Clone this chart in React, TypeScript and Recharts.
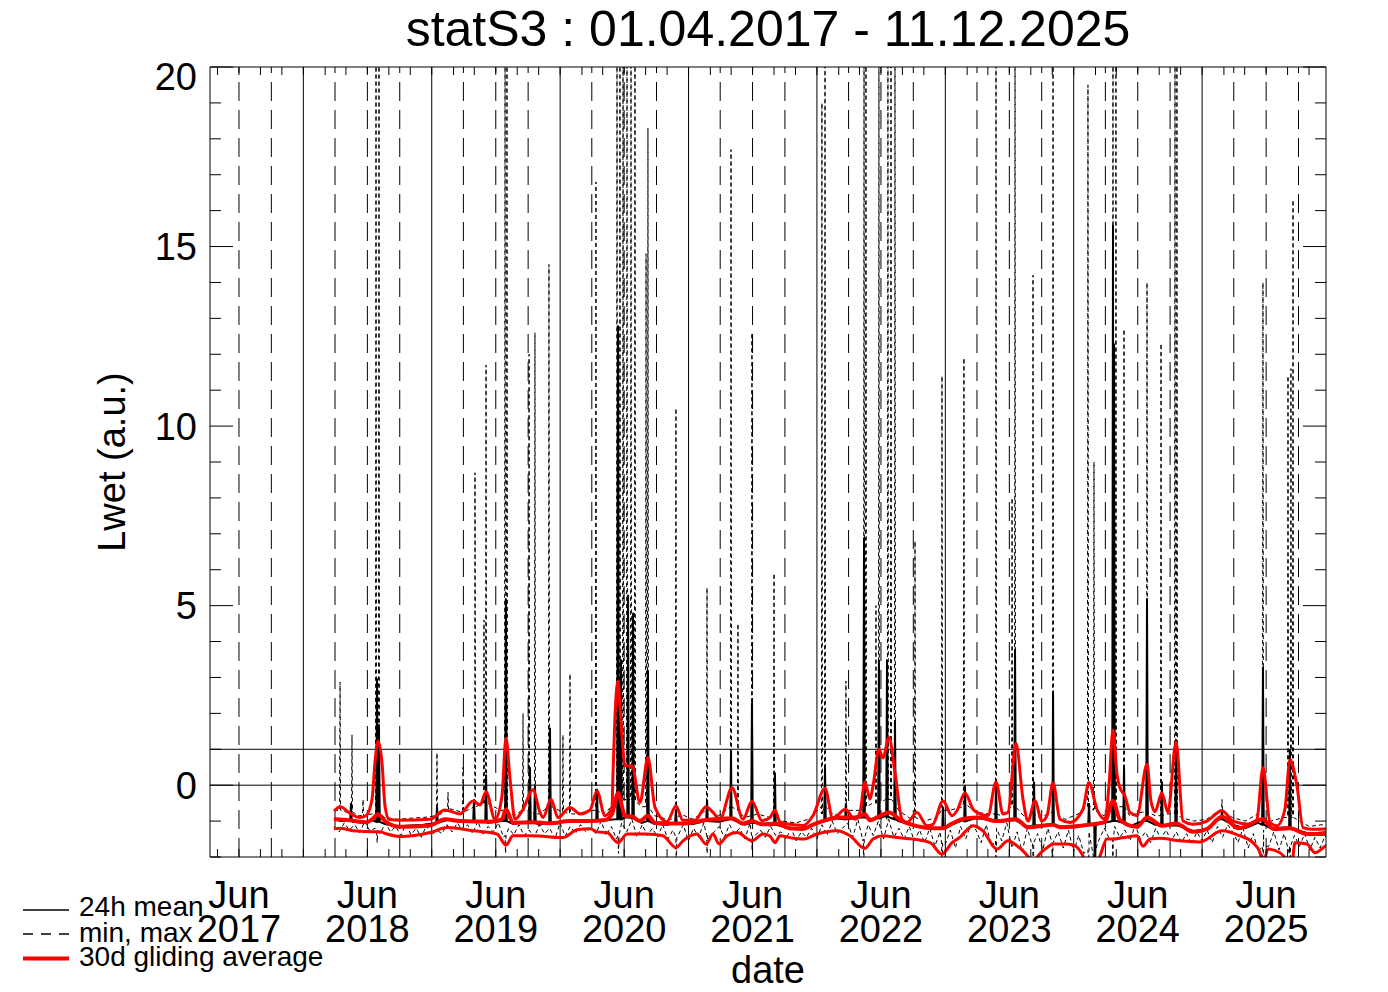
import React from "react";
import { LineChart, Line, XAxis, YAxis, ReferenceLine } from "recharts";

// chart box (sits inside the 8px body margin) and the plot frame in it
const W = 1372;
const H = 976;
const PL = 202;
const PT = 59;
const PW = 1116;
const PH = 790;
const PR = PL + PW;
const PB = PT + PH;

const X_DOMAIN: [number, number] = [2017.188, 2025.88];
const Y_DOMAIN: [number, number] = [-2, 20];
const FONT = "'Liberation Sans', Arial, Helvetica, sans-serif";

// time is in decimal years
const YEARS = [2017, 2018, 2019, 2020, 2021, 2022, 2023, 2024, 2025];
const TICK_DOY = [31, 90, 151, 212, 273, 334]; // Feb, Apr, Jun, Aug, Oct, Dec 1st
const JUN_DOY = 151;
const SEASON_DOY = [59, 151, 243]; // Mar, Jun, Sep 1st (dashed)
const WINTER_DOY = 334; // Dec 1st (solid)

// 24h mean: slow baseline, then single-day spikes [t, base, peak]
const meanBase: [number, number][] = [
  [2018.154, -0.92], [2018.2, -1.0], [2018.3, -1.02], [2018.4, -1.05], [2018.45, -0.98],
  [2018.55, -1.08], [2018.65, -1.15], [2018.75, -1.12], [2018.85, -1.1], [2018.95, -1.05],
  [2019.05, -0.95], [2019.15, -1.02], [2019.25, -1.0], [2019.35, -1.05], [2019.45, -1.0],
  [2019.55, -1.08], [2019.65, -1.02], [2019.75, -1.1], [2019.85, -1.05], [2019.95, -1.02],
  [2020.05, -1.0], [2020.15, -1.02], [2020.25, -0.98], [2020.35, -0.95], [2020.42, -0.9],
  [2020.5, -0.95], [2020.55, -1.05], [2020.65, -1.08], [2020.75, -1.1], [2020.85, -1.05],
  [2020.95, -1.08], [2021.05, -1.0], [2021.15, -1.02], [2021.25, -0.95], [2021.35, -1.1],
  [2021.45, -1.05], [2021.55, -1.12], [2021.65, -1.15], [2021.75, -1.22], [2021.85, -1.15],
  [2021.95, -1.0], [2022.05, -0.92], [2022.15, -0.95], [2022.25, -0.9], [2022.35, -0.95],
  [2022.45, -0.85], [2022.55, -1.0], [2022.65, -1.1], [2022.75, -1.18], [2022.85, -1.2],
  [2022.95, -1.12], [2023.05, -0.98], [2023.15, -0.92], [2023.25, -0.95], [2023.35, -1.02],
  [2023.45, -0.98], [2023.55, -1.15], [2023.65, -1.12], [2023.75, -1.1], [2023.85, -1.18],
  [2023.95, -1.12], [2024.05, -1.08], [2024.15, -1.05], [2024.25, -1.0], [2024.35, -1.15],
  [2024.45, -1.0], [2024.55, -1.1], [2024.65, -1.12], [2024.75, -1.15], [2024.85, -1.28],
  [2024.95, -1.22], [2025.05, -0.95], [2025.15, -1.1], [2025.25, -1.2], [2025.35, -1.05],
  [2025.45, -1.2], [2025.55, -1.18], [2025.65, -1.25], [2025.75, -1.35], [2025.85, -1.32],
  [2025.95, -1.3],
];
const meanSpikes: [number, number, number][] = [
  [2018.286, -1.0, -0.5], [2018.489, -1.02, 2.98], [2018.504, -1.02, 1.7], [2018.956, -1.05, -0.6],
  [2019.244, -1.0, -0.4], [2019.338, -1.02, 0.3], [2019.493, -1.0, 5.2], [2019.68, -1.02, 0.5],
  [2019.719, -1.05, 0.0], [2019.836, -1.05, 1.6], [2020.202, -1.0, -0.1], [2020.366, -0.95, 12.8],
  [2020.389, -0.95, 3.5], [2020.444, -0.9, 5.3], [2020.483, -0.92, 4.8], [2020.599, -1.0, 3.2],
  [2020.817, -1.05, -0.7], [2021.059, -1.0, -0.4], [2021.246, -0.95, 0.95], [2021.409, -1.05, 2.3],
  [2021.588, -1.1, 0.35], [2021.978, -1.0, 0.5], [2022.141, -0.95, -0.5], [2022.282, -0.9, 6.9],
  [2022.398, -0.92, 3.5], [2022.461, -0.88, 3.5], [2022.523, -0.95, 1.8], [2022.897, -1.2, -0.6],
  [2023.068, -1.0, 0.0], [2023.31, -1.0, 0.0], [2023.458, -0.98, 3.8], [2023.606, -1.12, 0.1],
  [2023.754, -1.1, 2.6], [2024.034, -1.1, -0.5], [2024.081, -1.1, -2.5], [2024.221, -1.0, 15.6],
  [2024.229, -1.0, 12.3], [2024.307, -1.05, 0.5], [2024.486, -1.0, 5.2], [2024.602, -1.1, 0.1],
  [2024.712, -1.12, 1.2], [2025.07, -0.95, -0.7], [2025.389, -1.1, 3.3], [2025.599, -1.18, 1.0],
];

// daily max
const maxBase: [number, number][] = [
  [2018.154, -0.7], [2018.25, -0.75], [2018.35, -0.85], [2018.45, -0.8], [2018.55, -0.9],
  [2018.65, -0.95], [2018.75, -0.92], [2018.85, -0.9], [2018.95, -0.85], [2019.05, -0.65],
  [2019.15, -0.75], [2019.25, -0.6], [2019.35, -0.5], [2019.45, -0.7], [2019.55, -0.85],
  [2019.65, -0.7], [2019.75, -0.8], [2019.85, -0.6], [2019.95, -0.75], [2020.05, -0.8],
  [2020.15, -0.7], [2020.25, -0.8], [2020.35, -0.5], [2020.45, -0.4], [2020.55, -0.6],
  [2020.65, -0.85], [2020.75, -0.95], [2020.85, -0.8], [2020.95, -0.95], [2021.05, -0.7],
  [2021.15, -0.85], [2021.25, -0.6], [2021.35, -0.9], [2021.45, -0.8], [2021.55, -0.9],
  [2021.65, -1.0], [2021.75, -1.05], [2021.85, -0.95], [2021.95, -0.6], [2022.05, -0.85],
  [2022.15, -0.7], [2022.25, -0.7], [2022.35, -0.5], [2022.45, -0.4], [2022.55, -0.7],
  [2022.65, -0.95], [2022.75, -1.0], [2022.85, -0.9], [2022.95, -0.7], [2023.05, -0.6],
  [2023.15, -0.75], [2023.25, -0.8], [2023.35, -0.85], [2023.45, -0.6], [2023.55, -0.95],
  [2023.65, -0.9], [2023.75, -0.75], [2023.85, -0.95], [2023.95, -0.8], [2024.05, -0.6],
  [2024.15, -0.85], [2024.25, -0.6], [2024.35, -0.85], [2024.45, -0.75], [2024.55, -0.85],
  [2024.65, -0.8], [2024.75, -0.9], [2024.85, -1.0], [2024.95, -0.95], [2025.05, -0.7],
  [2025.15, -0.9], [2025.25, -1.0], [2025.35, -0.8], [2025.45, -1.0], [2025.55, -0.9],
  [2025.65, -0.95], [2025.75, -1.15], [2025.85, -1.1], [2025.95, -1.1],
];
const maxSpikes: [number, number, number][] = [
  [2018.201, -0.7, 2.87], [2018.294, -0.75, 1.4], [2018.38, -0.85, -0.4], [2018.481, -0.8, 21],
  [2018.504, -0.8, 21], [2018.956, -0.85, 0.9], [2019.042, -0.7, -0.2], [2019.159, -0.75, 0.5],
  [2019.252, -0.6, 8.7], [2019.322, -0.5, 4.6], [2019.338, -0.5, 11.7], [2019.486, -0.7, 21],
  [2019.501, -0.7, 21], [2019.626, -0.7, 2.0], [2019.673, -0.7, 12.0], [2019.719, -0.8, 12.6],
  [2019.828, -0.6, 14.5], [2019.937, -0.75, 1.4], [2019.992, -0.8, 3.1], [2020.194, -0.7, 16.8],
  [2020.358, -0.5, 21], [2020.381, -0.5, 21], [2020.405, -0.4, 21], [2020.436, -0.4, 21],
  [2020.467, -0.4, 21], [2020.498, -0.45, 21], [2020.584, -0.6, 14.8], [2020.599, -0.6, 18.3],
  [2020.817, -0.95, 10.5], [2021.059, -0.7, 5.5], [2021.246, -0.6, 17.7], [2021.3, -0.7, 4.5],
  [2021.409, -0.85, 12.6], [2021.581, -0.9, 5.9], [2021.954, -0.8, 19.0], [2021.978, -0.6, 21],
  [2022.141, -0.7, 2.9], [2022.282, -0.6, 21], [2022.297, -0.6, 21], [2022.375, -0.5, 5.0],
  [2022.398, -0.5, 21], [2022.468, -0.4, 21], [2022.492, -0.4, 21], [2022.523, -0.5, 21],
  [2022.679, -0.9, 6.8], [2022.889, -0.7, 11.4], [2023.06, -0.5, 11.9], [2023.31, -0.8, 21],
  [2023.435, -0.6, 8.0], [2023.458, -0.6, 21], [2023.598, -0.8, 14.2], [2023.754, -0.75, 21],
  [2024.026, -0.6, 19.5], [2024.073, -0.7, 9.0], [2024.221, -0.6, 21], [2024.244, -0.6, 21],
  [2024.307, -0.6, 12.7], [2024.486, -0.75, 14.0], [2024.595, -0.85, 12.3], [2024.704, -0.8, 21],
  [2024.719, -0.8, 21], [2025.07, -0.7, -0.4], [2025.389, -0.9, 14.0], [2025.584, -0.9, 11.4],
  [2025.607, -0.9, 11.6], [2025.623, -0.9, 16.3],
];

// daily min, sampled every MIN_DT years from MIN_T0 (one row per year)
const MIN_T0 = 2018.154;
const MIN_DT = 0.04;
const minVals: number[] = [
  -1.15, -1.3, -1.05, -1.25, -1.1, -1.32, -1.0, -1.28, -1.2, -1.35, -1.05, -1.3, -1.15, -1.4, -1.1, -1.38, -1.2, -1.45, -1.12, -1.4, -1.25, -1.35, -1.1, -1.3, -1.05,
  -1.25, -1.1, -1.35, -1.0, -1.4, -1.15, -1.3, -1.05, -1.45, -1.2, -1.38, -1.1, -1.4, -1.25, -1.45, -1.1, -1.35, -1.2, -1.5, -1.05, -1.42, -1.15, -1.35, -1.1, -1.3,
  -1.2, -1.35, -1.0, -1.4, -1.15, -1.5, -1.05, -1.3, -0.95, -1.45, -1.1, -1.4, -1.2, -1.45, -1.1, -1.5, -1.25, -1.4, -1.1, -1.55, -1.2, -1.45, -1.05, -1.5, -1.3,
  -1.15, -1.45, -1.1, -1.35, -1.2, -1.5, -1.05, -1.4, -1.25, -1.45, -1.15, -1.4, -1.3, -1.5, -1.2, -1.55, -1.3, -1.45, -1.2, -1.5, -1.1, -1.4, -1.0, -1.35, -1.2,
  -1.05, -1.45, -0.95, -1.55, -1.1, -1.4, -1.0, -1.5, -0.95, -1.45, -1.2, -1.5, -1.15, -1.55, -1.25, -1.6, -1.2, -1.7, -1.3, -1.65, -1.25, -1.75, -1.15, -1.5, -1.1,
  -1.25, -1.6, -1.1, -1.7, -1.2, -1.55, -1.05, -1.75, -1.3, -1.85, -1.2, -1.7, -1.35, -1.8, -1.2, -1.65, -1.3, -1.75, -1.25, -1.85, -1.4, -1.9, -1.3, -2.1, -1.5,
  -1.2, -1.5, -1.15, -1.45, -1.25, -1.55, -1.1, -1.5, -1.3, -1.6, -1.2, -1.5, -1.25, -1.55, -1.3, -1.6, -1.35, -1.65, -1.3, -1.55, -1.25, -1.6, -1.15, -1.45, -1.1,
  -1.3, -1.6, -1.2, -1.75, -1.35, -1.85, -1.25, -1.7, -1.3, -1.8, -1.35, -1.9, -1.4, -1.7, -1.35, -1.8, -1.45, -1.75, -1.4, -1.7, -1.45, -1.8, -1.4, -1.75, -1.45,
];
const minDips: [number, number, number][] = [
  [2018.49, -1.3, -1.6], [2019.49, -1.4, -1.9], [2020.37, -1.4, -1.9], [2020.82, -1.45, -2.3],
  [2021.06, -1.4, -1.9], [2021.41, -1.4, -1.8], [2022.28, -1.5, -2.2], [2022.89, -1.6, -2.5],
  [2023.31, -1.55, -2.3], [2023.6, -1.6, -2.5], [2023.75, -1.6, -2.4], [2024.03, -1.8, -2.5],
  [2024.08, -1.8, -2.6], [2024.22, -1.5, -2.2], [2025.39, -1.7, -2.5], [2025.6, -1.7, -2.4],
];

// 30d gliding averages of max, mean and min
const avgMax: [number, number][] = [
  [2018.154, -0.72], [2018.201, -0.6], [2018.278, -0.78], [2018.356, -0.9], [2018.403, -0.85],
  [2018.45, -0.39], [2018.473, 0.64], [2018.497, 1.23], [2018.528, 0.6], [2018.551, -0.58],
  [2018.582, -0.95], [2018.668, -0.98], [2018.902, -0.95], [2019.018, -0.69], [2019.135, -0.8],
  [2019.236, -0.44], [2019.291, -0.55], [2019.338, -0.19], [2019.408, -0.95], [2019.462, -0.3],
  [2019.493, 1.31], [2019.525, 0.17], [2019.564, -0.95], [2019.626, -0.67], [2019.704, -0.13],
  [2019.758, -0.76], [2019.782, -0.9], [2019.844, -0.39], [2019.898, -0.9], [2019.992, -0.62],
  [2020.07, -0.8], [2020.148, -0.69], [2020.202, -0.16], [2020.264, -0.85], [2020.319, -0.62],
  [2020.327, 0.35], [2020.342, 1.9], [2020.366, 2.9], [2020.381, 2.2], [2020.405, 0.99],
  [2020.42, 0.54], [2020.475, 0.54], [2020.537, -0.48], [2020.599, 0.77], [2020.654, -0.62],
  [2020.747, -1.02], [2020.817, -0.58], [2020.872, -0.98], [2020.965, -0.98], [2021.051, -0.6],
  [2021.106, -0.76], [2021.16, -0.95], [2021.254, -0.07], [2021.339, -0.95], [2021.409, -0.45],
  [2021.487, -0.99], [2021.55, -0.9], [2021.588, -0.7], [2021.627, -1.02], [2021.705, -1.09],
  [2021.807, -1.12], [2021.884, -0.85], [2021.978, -0.09], [2022.04, -0.95], [2022.079, -0.83],
  [2022.134, -0.67], [2022.212, -0.95], [2022.25, -0.76], [2022.289, 0.09], [2022.328, -0.39],
  [2022.352, -0.02], [2022.398, 1.0], [2022.43, 0.76], [2022.476, 1.33], [2022.523, 0.35],
  [2022.578, -0.95], [2022.616, -1.04], [2022.694, -0.76], [2022.772, -1.13], [2022.819, -1.09],
  [2022.897, -0.44], [2022.967, -0.85], [2023.006, -0.71], [2023.068, -0.22], [2023.131, -0.67],
  [2023.185, -0.8], [2023.247, -0.85], [2023.31, 0.09], [2023.364, -0.8], [2023.403, -0.76],
  [2023.465, 1.17], [2023.52, -0.39], [2023.559, -1.0], [2023.613, -0.44], [2023.668, -1.0],
  [2023.707, -0.85], [2023.754, 0.07], [2023.808, -0.95], [2023.886, -1.04], [2023.987, -0.67],
  [2024.034, 0.07], [2024.096, -0.67], [2024.159, -0.95], [2024.19, 0.0], [2024.221, 1.54],
  [2024.252, 0.3], [2024.275, -0.07], [2024.314, -0.3], [2024.353, -0.76], [2024.408, -0.85],
  [2024.486, 0.58], [2024.517, -0.45], [2024.548, -0.74], [2024.602, -0.22], [2024.649, -0.76],
  [2024.712, 1.21], [2024.766, -1.0], [2024.844, -1.09], [2024.953, -1.0], [2025.07, -0.71],
  [2025.155, -1.0], [2025.288, -1.09], [2025.342, -0.95], [2025.389, 0.49], [2025.444, -1.04],
  [2025.498, -1.13], [2025.56, -0.67], [2025.599, 0.7], [2025.654, -0.02], [2025.701, -1.18],
  [2025.778, -1.23], [2025.911, -1.22],
];
const avgMean: [number, number][] = [
  [2018.154, -0.95], [2018.278, -0.98], [2018.411, -1.03], [2018.45, -0.95], [2018.497, -0.81],
  [2018.551, -1.0], [2018.668, -1.16], [2018.902, -1.12], [2019.018, -0.95], [2019.135, -1.0],
  [2019.369, -1.02], [2019.462, -0.95], [2019.493, -0.67], [2019.548, -1.05], [2019.704, -1.03],
  [2019.836, -1.06], [2019.992, -1.0], [2020.148, -1.0], [2020.264, -0.97], [2020.319, -0.8],
  [2020.366, -0.22], [2020.42, -0.85], [2020.475, -0.87], [2020.537, -1.0], [2020.599, -0.85],
  [2020.654, -1.05], [2020.888, -1.07], [2021.051, -0.97], [2021.254, -0.92], [2021.339, -1.07],
  [2021.409, -1.0], [2021.487, -1.09], [2021.596, -1.07], [2021.705, -1.2], [2021.807, -1.22],
  [2021.884, -1.1], [2021.978, -0.98], [2022.079, -0.9], [2022.212, -0.9], [2022.289, -0.81],
  [2022.328, -0.98], [2022.398, -0.87], [2022.476, -0.76], [2022.578, -1.0], [2022.694, -1.14],
  [2022.819, -1.2], [2022.897, -1.2], [2022.967, -1.07], [2023.068, -0.93], [2023.185, -0.9],
  [2023.31, -1.0], [2023.465, -0.95], [2023.559, -1.17], [2023.754, -1.1], [2023.808, -1.17],
  [2024.034, -1.1], [2024.159, -1.02], [2024.221, -0.44], [2024.275, -0.97], [2024.408, -1.16],
  [2024.486, -0.9], [2024.602, -1.13], [2024.712, -1.07], [2024.844, -1.3], [2024.953, -1.22],
  [2025.07, -0.88], [2025.2, -1.2], [2025.389, -0.95], [2025.47, -1.22], [2025.599, -1.2],
  [2025.732, -1.36], [2025.911, -1.36],
];
const avgMin: [number, number][] = [
  [2018.154, -1.21], [2018.201, -1.2], [2018.302, -1.27], [2018.411, -1.29], [2018.512, -1.3],
  [2018.567, -1.36], [2018.668, -1.43], [2018.902, -1.32], [2019.034, -1.18], [2019.236, -1.27],
  [2019.423, -1.36], [2019.493, -1.67], [2019.548, -1.41], [2019.704, -1.41], [2019.937, -1.46],
  [2020.046, -1.24], [2020.148, -1.21], [2020.202, -1.3], [2020.28, -1.32], [2020.366, -1.6],
  [2020.436, -1.36], [2020.592, -1.36], [2020.716, -1.41], [2020.817, -1.74], [2020.872, -1.55],
  [2020.981, -1.36], [2021.051, -1.64], [2021.106, -1.36], [2021.152, -1.64], [2021.215, -1.41],
  [2021.293, -1.32], [2021.409, -1.55], [2021.495, -1.36], [2021.55, -1.42], [2021.588, -1.6],
  [2021.627, -1.41], [2021.705, -1.46], [2021.807, -1.5], [2021.916, -1.36], [2022.071, -1.27],
  [2022.173, -1.41], [2022.289, -1.76], [2022.352, -1.5], [2022.43, -1.41], [2022.539, -1.46],
  [2022.663, -1.5], [2022.796, -1.6], [2022.889, -1.92], [2022.967, -1.6], [2023.029, -1.45],
  [2023.068, -1.3], [2023.131, -1.13], [2023.208, -1.27], [2023.317, -1.78], [2023.403, -1.55],
  [2023.473, -1.69], [2023.52, -1.83], [2023.574, -2.06], [2023.598, -2.2], [2023.637, -1.97],
  [2023.707, -1.74], [2023.754, -1.64], [2023.863, -1.64], [2023.925, -1.69], [2023.987, -1.97],
  [2024.026, -2.3], [2024.081, -2.3], [2024.12, -1.97], [2024.174, -1.5], [2024.221, -1.5],
  [2024.299, -1.46], [2024.408, -1.41], [2024.454, -1.7], [2024.509, -1.5], [2024.587, -1.48],
  [2024.743, -1.55], [2024.898, -1.58], [2025.07, -1.27], [2025.21, -1.41], [2025.311, -1.6],
  [2025.366, -1.88], [2025.389, -2.2], [2025.428, -1.78], [2025.521, -1.88], [2025.576, -2.06],
  [2025.615, -2.15], [2025.638, -1.6], [2025.732, -1.64], [2025.794, -1.88], [2025.88, -1.69],
  [2025.911, -1.65],
];

type Pt = { t: number; v: number };

const toPts = (rows: [number, number][]): Pt[] => rows.map(([t, v]) => ({ t, v }));

// merge a baseline with one-day spikes, each spike given as [t, base, peak]
const withSpikes = (base: Pt[], spikes: [number, number, number][], hw: number): Pt[] => {
  const pts = [...base];
  spikes.forEach(([t, b, p]) => {
    pts.push({ t: t - hw, v: b }, { t, v: p }, { t: t + hw, v: b });
  });
  return pts.sort((a, b) => a.t - b.t);
};

const minGrid: Pt[] = minVals.map((v, i) => ({ t: MIN_T0 + i * MIN_DT, v }));

const meanData = withSpikes(toPts(meanBase), meanSpikes, 0.006);
const maxData = withSpikes(toPts(maxBase), maxSpikes, 0.004);
const minData = withSpikes(minGrid, minDips, 0.004);

const dec = (y: number, doy: number) => y + doy / 365;
const inX = (t: number) => t >= X_DOMAIN[0] && t <= X_DOMAIN[1];

const xTicks = YEARS.flatMap((y) => TICK_DOY.map((d) => dec(y, d))).filter(inX);
const seasonLines = YEARS.flatMap((y) => SEASON_DOY.map((d) => dec(y, d))).filter(inX);
const winterLines = YEARS.map((y) => dec(y, WINTER_DOY)).filter(inX);
const yTicks = Array.from({ length: 23 }, (_, i) => i - 2);

const isJun = (t: number) => Math.abs(t - Math.floor(t) - JUN_DOY / 365) < 0.001;

const BottomTick = (p: any) => {
  const x = p.x;
  const t = p.payload.value;
  return (
    <g>
      <line x1={x} x2={x} y1={PB} y2={PB - 8} stroke="#000" />
      {isJun(t) && (
        <g fontFamily={FONT} fontSize={38} fill="#000" textAnchor="middle">
          <text x={x} y={900}>Jun</text>
          <text x={x} y={933.5}>{Math.floor(t)}</text>
        </g>
      )}
    </g>
  );
};

const TopTick = (p: any) => (
  <line x1={p.x} x2={p.x} y1={PT} y2={PT + 8} stroke="#000" />
);

const LeftTick = (p: any) => {
  const v = p.payload.value;
  const y = p.y;
  const major = v % 5 === 0;
  return (
    <g>
      <line x1={PL} x2={PL + (major ? 23 : 11)} y1={y} y2={y} stroke="#000" />
      {major && v >= 0 && (
        <text x={PL - 13} y={v === 20 ? y + 23 : y + 13.5} textAnchor="end" fontSize={38} fontFamily={FONT} fill="#000">
          {v}
        </text>
      )}
    </g>
  );
};

const RightTick = (p: any) => {
  const v = p.payload.value;
  const major = v % 5 === 0;
  return <line x1={PR} x2={PR - (major ? 23 : 11)} y1={p.y} y2={p.y} stroke="#000" />;
};

// axes need a size of at least 1px or they are not drawn
const AX = 1;

export default function App() {
  return (
    <div style={{ position: "relative", width: W, height: H }}>
      <LineChart
        width={W}
        height={H}
        margin={{ top: PT - AX, right: W - PR - AX, bottom: H - PB - AX, left: PL - AX }}
      >
        <XAxis
          dataKey="t"
          type="number"
          domain={X_DOMAIN}
          allowDataOverflow
          ticks={xTicks}
          interval={0}
          height={AX}
          tickLine={false}
          axisLine={{ stroke: "#000" }}
          tick={BottomTick}
        />
        <XAxis
          xAxisId="top"
          orientation="top"
          dataKey="t"
          type="number"
          domain={X_DOMAIN}
          allowDataOverflow
          ticks={xTicks}
          interval={0}
          height={AX}
          tickLine={false}
          axisLine={{ stroke: "#000" }}
          tick={TopTick}
        />
        <YAxis
          type="number"
          domain={Y_DOMAIN}
          allowDataOverflow
          ticks={yTicks}
          interval={0}
          width={AX}
          tickLine={false}
          axisLine={{ stroke: "#000" }}
          tick={LeftTick}
        />
        <YAxis
          yAxisId="right"
          orientation="right"
          type="number"
          domain={Y_DOMAIN}
          allowDataOverflow
          ticks={yTicks}
          interval={0}
          width={AX}
          tickLine={false}
          axisLine={{ stroke: "#000" }}
          tick={RightTick}
        />

        {seasonLines.map((t) => (
          <ReferenceLine key={`s${t}`} x={t} stroke="#000" strokeWidth={1} strokeDasharray="19 9" />
        ))}
        {winterLines.map((t) => (
          <ReferenceLine key={`w${t}`} x={t} stroke="#000" strokeWidth={1} />
        ))}
        <ReferenceLine y={0} stroke="#000" strokeWidth={1} />
        <ReferenceLine y={1} stroke="#000" strokeWidth={1} />

        <Line data={maxData} dataKey="v" type="linear" stroke="#000" strokeWidth={1} strokeDasharray="4 3" dot={false} isAnimationActive={false} />
        <Line data={minData} dataKey="v" type="linear" stroke="#000" strokeWidth={1} strokeDasharray="4 3" dot={false} isAnimationActive={false} />
        <Line data={meanData} dataKey="v" type="linear" stroke="#000" strokeWidth={2} dot={false} isAnimationActive={false} />
        <Line data={toPts(avgMin)} dataKey="v" type="monotone" stroke="#ff0000" strokeWidth={3} dot={false} isAnimationActive={false} />
        <Line data={toPts(avgMax)} dataKey="v" type="monotone" stroke="#ff0000" strokeWidth={3} dot={false} isAnimationActive={false} />
        <Line data={toPts(avgMean)} dataKey="v" type="monotone" stroke="#ff0000" strokeWidth={4} dot={false} isAnimationActive={false} />
      </LineChart>

      <svg
        width={W}
        height={H}
        style={{ position: "absolute", left: 0, top: 0, overflow: "visible", pointerEvents: "none" }}
        fontFamily={FONT}
        fill="#000"
      >
        <text x={760} y={38} fontSize={50} textAnchor="middle">
          statS3 : 01.04.2017 - 11.12.2025
        </text>
        <text x={104} y={454} fontSize={38} textAnchor="middle" dominantBaseline="central" transform="rotate(-90 104 454)">
          Lwet (a.u.)
        </text>
        <text x={760} y={975} fontSize={38} textAnchor="middle">
          date
        </text>

        <line x1={15} x2={61} y1={902} y2={902} stroke="#000" strokeWidth={1.5} />
        <text x={71} y={908} fontSize={28}>24h mean</text>
        <line x1={15} x2={61} y1={926} y2={926} stroke="#000" strokeWidth={1.5} strokeDasharray="10 8" />
        <text x={71} y={933.5} fontSize={28}>min, max</text>
        <line x1={15} x2={61} y1={950.5} y2={950.5} stroke="#ff0000" strokeWidth={4} />
        <text x={71} y={958} fontSize={28}>30d gliding average</text>
      </svg>
    </div>
  );
}
